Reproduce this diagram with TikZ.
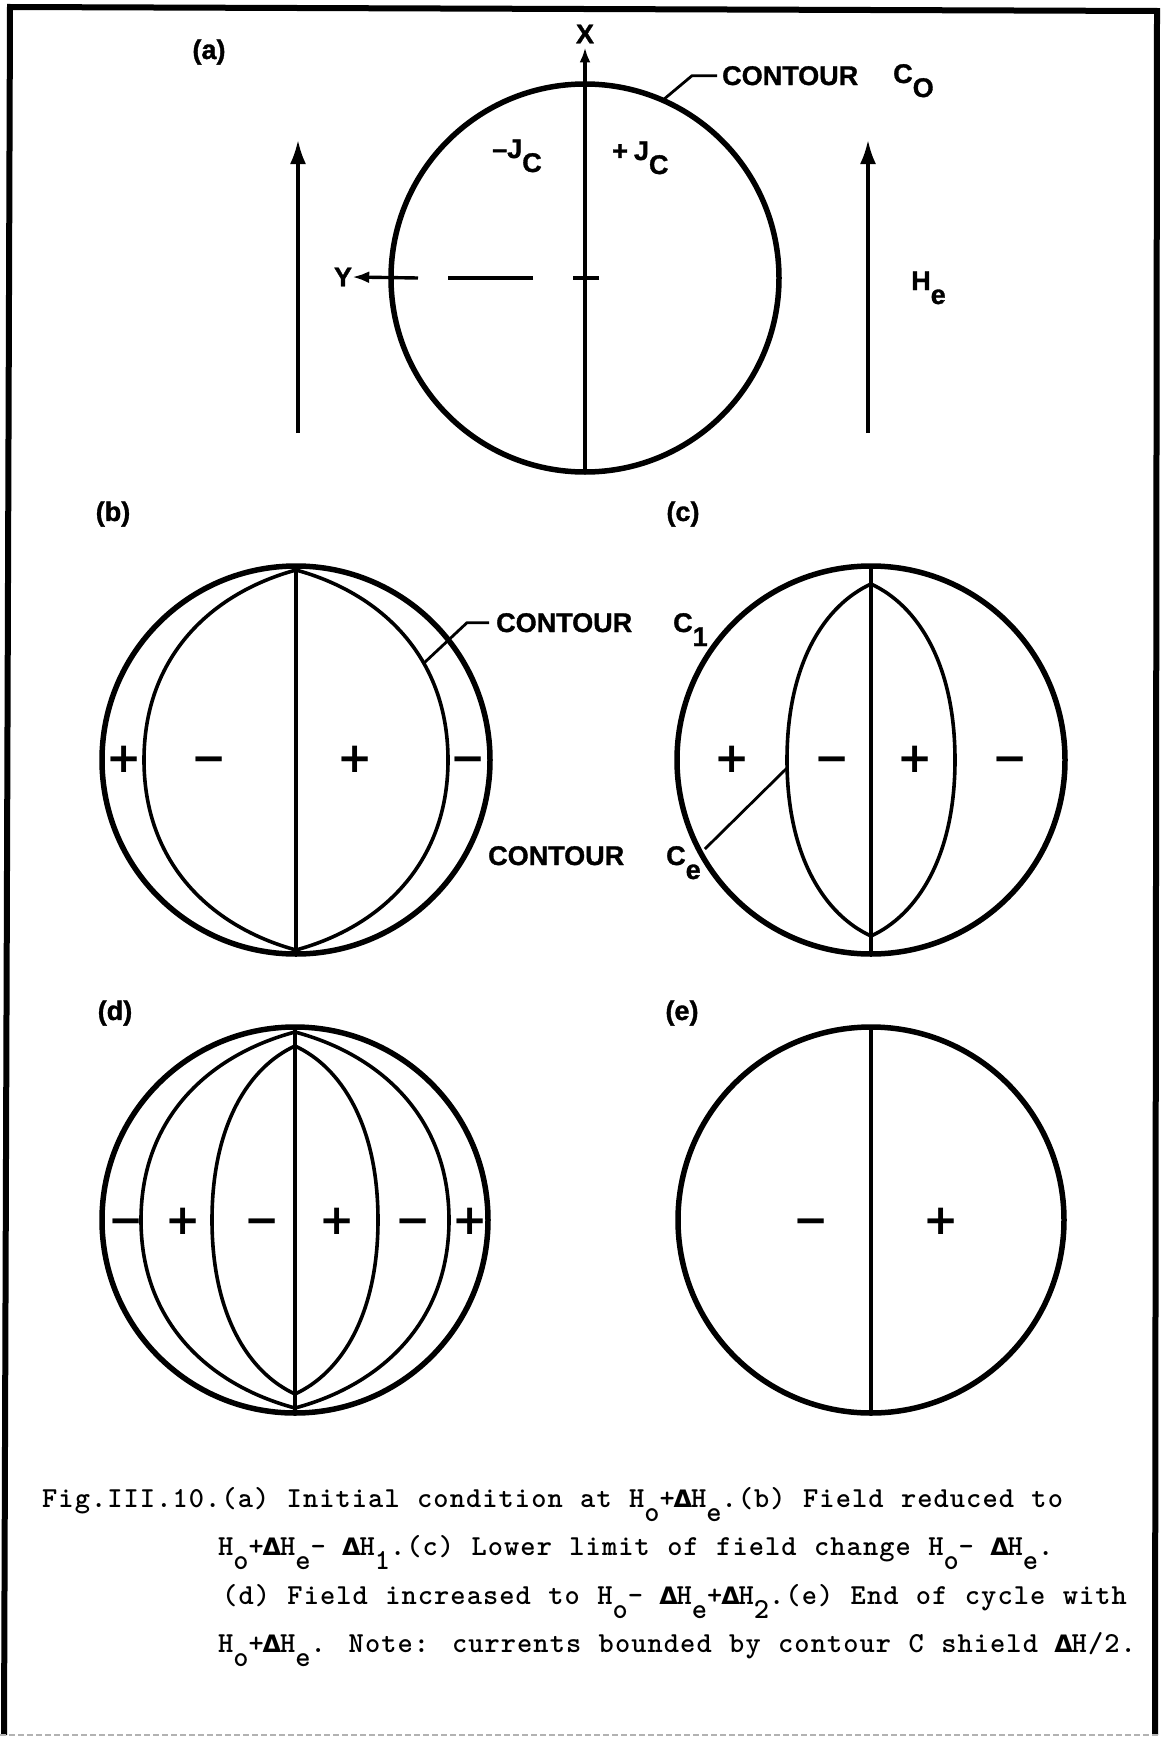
\documentclass[tikz,border=0pt]{standalone}
\usepackage{fontspec}
\usetikzlibrary{arrows.meta,calc}
\newfontfamily\lblfont{Liberation Sans}[BoldFeatures={FakeBold=1.2}]
\newfontfamily\signfont{DejaVu Sans}
\newfontfamily\capfont{lmmonolt10-bold.otf}[LetterSpace=3.7, WordSpace=1.07]
\newcommand{\lsub}[1]{\raisebox{-14pt}{#1}}
\newcommand{\tsub}[1]{\raisebox{-14pt}{#1}}
\newcommand{\tdelta}{\makebox[16.3pt]{\signfont\bfseries\fontsize{24}{24}\selectfont Δ}}
% pointed oval through top and bottom of a chord: cx, cy, half height, half width
\newcommand{\lens}[4]{%
  \pgfmathsetmacro{\lensK}{0.55*#4}%
  \pgfmathsetmacro{\lensP}{0.12*#3}%
  \pgfmathsetmacro{\lensV}{0.55*#3}%
  \draw[inner] (#1,#2-#3) .. controls +(\lensK,\lensP) and +(0,-\lensV) .. (#1+#4,#2)
    .. controls +(0,\lensV) and +(\lensK,-\lensP) .. (#1,#2+#3)
    .. controls +(-\lensK,-\lensP) and +(0,\lensV) .. (#1-#4,#2)
    .. controls +(0,-\lensV) and +(-\lensK,\lensP) .. cycle;%
}
\tikzset{
  contour/.style={line width=5.5pt},
  inner/.style={line width=3.6pt},
  axis/.style={line width=3.4pt},
  leader/.style={line width=2.8pt},
  field/.style={line width=3.2pt, -{Latex[length=24pt,width=16pt]}},
  frame/.style={line width=6pt, line join=miter},
  lbl/.style={font=\lblfont\bfseries\fontsize{27}{30}\selectfont, inner sep=0pt},
  sign/.style={font=\signfont\bfseries\fontsize{42}{42}\selectfont, inner sep=0pt, text height=30pt, text depth=0pt},
  capline/.style={font=\capfont\fontsize{29}{34}\selectfont, anchor=base west, inner sep=0pt}
}
\begin{document}
\begin{tikzpicture}[x=1pt,y=-1pt]
\useasboundingbox (0,0) rectangle (1160,1737);
\draw[frame] (4,1735) -- (10,7) -- (1157,11) -- (1155,1735);
\draw[gray!60, line width=1.2pt, dash pattern=on 6pt off 3pt] (0,1735) -- (1160,1735);

% (a) initial state
\coordinate (ca) at (585,278);
\node[lbl] (la) at (209,52) {(a)};
\draw[contour] (ca) circle[radius=194];
\node[lbl] (xlab) at (585,34) {X};
\node[lbl] (ylab) at (343,277) {Y};
\draw[axis, -{Latex[length=15pt,width=11pt]}, shorten >=4pt] (ca) ++(0,194) -- (xlab.south);
\draw[axis] (599,278) -- (573,278);
\draw[axis] (533,278) -- (448,278);
\draw[axis, -{Latex[length=17pt,width=12pt]}] (418,278) -- (ylab.east);
\coordinate (fl0) at (298,433);
\coordinate (fl1) at (298,140);
\coordinate (fr0) at (868,433);
\coordinate (fr1) at (868,140);
\draw[field] (fl0) -- (fl1);
\draw[field] (fr0) -- (fr1);
\node[lbl, anchor=base west] (he) at (911,290) {H\lsub{e}};
\node[lbl, anchor=base west] (jm) at (492,158) {–J\lsub{C}};
\node[lbl, anchor=base west] (jp) at (612,160) {+\hspace{6pt}J\lsub{C}};
\coordinate (k0) at (663,100);
\node[lbl, anchor=base west] (con0) at (722,85) {CONTOUR};
\node[lbl, anchor=base west] (c0) at (893,83) {C\lsub{O}};
\draw[leader, shorten >=5pt] (k0) -- ($(con0.west)+(-30,0)$) -- (con0.west);

% (b) field reduced
\coordinate (cb) at (296,760);
\node[lbl] (lb) at (113,514) {(b)};
\draw[contour] (cb) circle[radius=194];
\draw[inner] (cb) ++(0,-194) -- ++(0,388);
\lens{296}{760}{190}{152}
\foreach \x/\s [count=\i] in {124/+,209/−,355/+,468/−}
  \node[sign] (sb\i) at (\x,757) {\s};
\coordinate (k1) at (424,663);
\node[lbl, anchor=base west] (con1) at (496,632) {CONTOUR};
\node[lbl, anchor=base west] (c1) at (673,632) {C\lsub{1}};
\draw[leader, shorten >=7pt] (k1) -- ($(con1.west)+(-29,0)$) -- (con1.west);

% (c) lower limit
\coordinate (cc) at (871,760);
\node[lbl] (lc) at (683,514) {(c)};
\draw[contour] (cc) circle[radius=194];
\draw[inner] (cc) ++(0,-194) -- ++(0,388);
\lens{871}{760}{176}{84}
\foreach \x/\s [count=\i] in {732/+,832/−,915/+,1010/−}
  \node[sign] (sc\i) at (\x,757) {\s};
\coordinate (ke) at (787,768);
\node[lbl, anchor=base west] (cone) at (488,865) {CONTOUR};
\node[lbl, anchor=base west] (cesub) at (666,865) {C\lsub{e}};
\draw[leader] ($(cesub.north east)+(4,3)$) -- (ke);

% (d) field increased
\coordinate (cd) at (295,1220);
\node[lbl] (ld) at (115,1013) {(d)};
\draw[contour] (cd) circle[radius=193];
\draw[inner] (cd) ++(0,-193) -- ++(0,386);
\lens{295}{1220}{188}{154}
\lens{295}{1220}{174}{83}
\foreach \x/\s [count=\i] in {126/−,183/+,262/−,337/+,413/−,470/+}
  \node[sign] (sd\i) at (\x,1219) {\s};

% (e) end of cycle
\coordinate (ce) at (871,1220);
\node[lbl] (le) at (682,1013) {(e)};
\draw[contour] (ce) circle[radius=193];
\draw[inner] (ce) ++(0,-193) -- ++(0,386);
\node[sign] (se1) at (811,1219) {−};
\node[sign] (se2) at (941,1219) {+};

% caption
\node[capline] (cap1) at (42,1507) {Fig.III.10.(a) Initial condition at H\tsub{o}+\tdelta H\tsub{e}.(b) Field reduced to};
\node[capline] (cap2) at (218,1555) {H\tsub{o}+\tdelta H\tsub{e}- \tdelta H\tsub{1}.(c) Lower limit of field change H\tsub{o}- \tdelta H\tsub{e}.};
\node[capline] (cap3) at (222,1604) {(d) Field increased to H\tsub{o}- \tdelta H\tsub{e}+\tdelta H\tsub{2}.(e) End of cycle with};
\node[capline] (cap4) at (218,1652) {H\tsub{o}+\tdelta H\tsub{e}. Note: currents bounded by contour C shield \tdelta H/2.};
\end{tikzpicture}
\end{document}
